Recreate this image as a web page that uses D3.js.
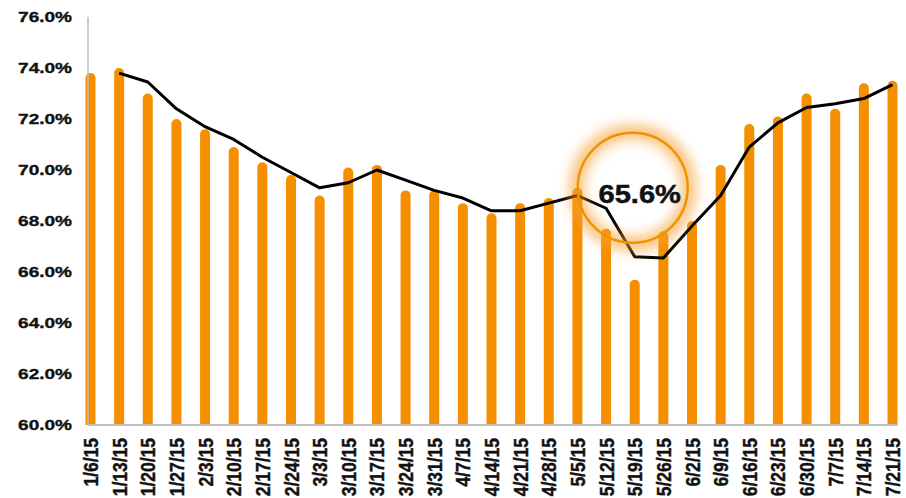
<!DOCTYPE html>
<html>
<head>
<meta charset="utf-8">
<script src="https://cdn.jsdelivr.net/npm/d3@7"></script>
<style>
  body { margin: 0; background: #fff; }
  text { font-family: "Liberation Sans", Arial, sans-serif; font-weight: bold; fill: #111; }
</style>
</head>
<body>
<svg id="chart"></svg>
<script>
// weekly dates
var categories = ["1/6/15","1/13/15","1/20/15","1/27/15","2/3/15","2/10/15","2/17/15","2/24/15",
  "3/3/15","3/10/15","3/17/15","3/24/15","3/31/15","4/7/15","4/14/15","4/21/15","4/28/15",
  "5/5/15","5/12/15","5/19/15","5/26/15","6/2/15","6/9/15","6/16/15","6/23/15","6/30/15",
  "7/7/15","7/14/15","7/21/15"];

// bars (percent)
var barValues = [73.8,74.0,73.0,72.0,71.6,70.9,70.3,69.8,69.0,70.1,70.2,69.2,69.2,68.7,68.3,68.7,68.9,
  69.3,67.7,65.7,67.6,68.0,70.2,71.8,72.1,73.0,72.4,73.4,73.5];

// black trend line, no value for first week
var lineValues = [null,73.8,73.45,72.4,71.7,71.2,70.5,69.9,69.3,69.5,70.0,69.6,69.2,68.9,68.4,68.4,68.7,
  69.0,68.5,66.6,66.55,67.8,69.0,70.9,71.85,72.45,72.6,72.8,73.35];

var yTicks = [60,62,64,66,68,70,72,74,76];

var calloutLabel = "65.6%";
var calloutAt = "5/19/15";
var calloutLevel = 69.3;

var width = 906;
var height = 498;
var left = 88;
var barWidth = 10;

var svg = d3.select("#chart")
  .attr("width", width)
  .attr("height", height);

var x = d3.scalePoint()
  .domain(categories)
  .range([90.5, 892.5]);

var y = d3.scaleLinear()
  .domain([60, 76])
  .range([425, 17]);

var defs = svg.append("defs");
defs.append("filter")
  .attr("id", "glow")
  .attr("x", "-50%").attr("y", "-50%")
  .attr("width", "200%").attr("height", "200%")
  .append("feGaussianBlur")
  .attr("stdDeviation", 6);

// bars with rounded tops
var r = barWidth / 2;
svg.selectAll("path.bar")
  .data(barValues)
  .enter()
  .append("path")
  .attr("class", "bar")
  .attr("fill", "#F58F00")
  .attr("d", function(d, i) {
    var x0 = x(categories[i]) - r;
    var x1 = x(categories[i]) + r;
    var top = y(d);
    return "M" + x0 + "," + y(60) + "V" + (top + r) +
      "A" + r + "," + r + " 0 0 1 " + x1 + "," + (top + r) +
      "V" + y(60) + "Z";
  });

// axes lines
svg.append("line")
  .attr("x1", left).attr("x2", left)
  .attr("y1", y(76)).attr("y2", y(60))
  .attr("stroke", "#BDBDBD").attr("stroke-width", 1.5);

svg.append("line")
  .attr("x1", left).attr("x2", x(categories[categories.length - 1]) + r)
  .attr("y1", y(60)).attr("y2", y(60))
  .attr("stroke", "#BDBDBD").attr("stroke-width", 2);

// trend line
var line = d3.line()
  .defined(function(d) { return d != null; })
  .x(function(d, i) { return x(categories[i]); })
  .y(function(d) { return y(d); });

svg.append("path")
  .datum(lineValues)
  .attr("fill", "none")
  .attr("stroke", "#000")
  .attr("stroke-width", 3)
  .attr("stroke-linejoin", "round")
  .attr("d", line);

// y axis labels
var yAxis = svg.append("g")
  .attr("transform", "translate(" + left + ",0)")
  .call(d3.axisLeft(y).tickValues(yTicks).tickSize(0)
    .tickFormat(function(d) { return d.toFixed(1) + "%"; }));
yAxis.select(".domain").remove();
yAxis.selectAll("text")
  .attr("font-size", 15)
  .attr("font-family", null)
  .attr("fill", "#111")
  .attr("stroke", "#111")
  .attr("stroke-width", 0.35)
  .attr("x", -16 / 1.27)
  .attr("transform", "scale(1.27,1)");

// x axis labels
var xAxis = svg.append("g")
  .attr("transform", "translate(0," + y(60) + ")")
  .call(d3.axisBottom(x).tickSize(0));
xAxis.select(".domain").remove();
xAxis.selectAll("text")
  .attr("font-size", 17.5)
  .attr("font-family", null)
  .attr("fill", "#111")
  .attr("stroke", "#111")
  .attr("stroke-width", 0.35)
  .attr("text-anchor", "end")
  .attr("x", -13)
  .attr("y", 0)
  .attr("dy", "0.36em")
  .attr("transform", "rotate(-90) scale(1,1.12)");

// callout circle
var cx = x(calloutAt) - 2;
var cy = y(calloutLevel);
svg.append("circle")
  .attr("cx", cx).attr("cy", cy).attr("r", 56)
  .attr("fill", "none")
  .attr("stroke", "#F7A030")
  .attr("stroke-opacity", 0.6)
  .attr("stroke-width", 16)
  .attr("filter", "url(#glow)");
svg.append("circle")
  .attr("cx", cx).attr("cy", cy).attr("r", 55)
  .attr("fill", "none")
  .attr("stroke", "#F39200")
  .attr("stroke-width", 2.5);

svg.append("text")
  .attr("x", (cx + 7) / 1.14)
  .attr("y", cy + 15)
  .attr("text-anchor", "middle")
  .attr("font-size", 25.5)
  .attr("stroke", "#111")
  .attr("stroke-width", 0.5)
  .attr("transform", "scale(1.14,1)")
  .text(calloutLabel);
</script>
</body>
</html>
